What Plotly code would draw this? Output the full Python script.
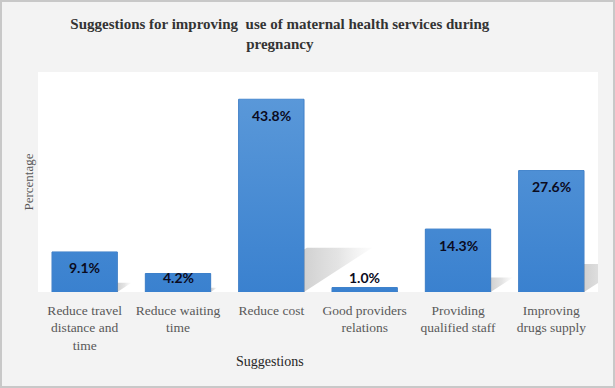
import plotly.graph_objects as go

categories = [
    "Reduce travel<br>distance and<br>time",
    "Reduce waiting<br>time",
    "Reduce cost",
    "Good providers<br>relations",
    "Providing<br>qualified staff",
    "Improving<br>drugs supply",
]
values = [9.1, 4.2, 43.8, 1.0, 14.3, 27.6]
labels = ["9.1%", "4.2%", "43.8%", "1.0%", "14.3%", "27.6%"]

positions = list(range(len(categories)))
BAR_W = 0.7
Y_MAX = 50
LABEL_MIN = 7.0


def clip_right(pts, xr):
    """Keep the part of polygon pts with x >= xr (Sutherland-Hodgman)."""
    out = []
    n = len(pts)
    for k in range(n):
        p, q = pts[k], pts[(k + 1) % n]
        pin, qin = p[0] >= xr, q[0] >= xr
        if pin:
            out.append(p)
        if pin != qin:
            t = (xr - p[0]) / (q[0] - p[0])
            out.append((xr, p[1] + t * (q[1] - p[1])))
    return out


fig = go.Figure()

# soft perspective drop shadows (derived from each bar value), only the part beside the bar
for xi, v in zip(positions, values):
    dx = 0.0167 * v
    dy = 0.23 * v
    L, R = xi - BAR_W / 2, xi + BAR_W / 2
    poly = [(L, 0), (R, 0), (R + dx, dy), (L + dx, dy)]
    vis = clip_right(poly, R)
    if len(vis) < 3:
        continue
    xs = [p[0] for p in vis] + [vis[0][0]]
    ys = [p[1] for p in vis] + [vis[0][1]]
    fig.add_trace(go.Scatter(
        x=xs, y=ys, mode="lines", fill="toself",
        line=dict(width=0, color="rgba(0,0,0,0)"),
        fillgradient=dict(
            type="horizontal",
            colorscale=[[0, "rgba(110,110,110,0.32)"], [0.5, "rgba(130,130,130,0.22)"],
                        [1, "rgba(170,170,170,0.03)"]],
        ),
        hoverinfo="skip", showlegend=False,
    ))

fig.add_trace(go.Bar(
    x=positions, y=values, width=BAR_W,
    marker=dict(color="#4a8cd4", line=dict(color="#3a7bc4", width=1)),
    showlegend=False, hoverinfo="skip",
))

# subtle vertical gradient over each bar (lighter top, deeper bottom)
for xi, v in zip(positions, values):
    L, R = xi - BAR_W / 2 + 0.006, xi + BAR_W / 2 - 0.006
    fig.add_trace(go.Scatter(
        x=[L, R, R, L, L], y=[0, 0, v, v, 0], mode="lines", fill="toself",
        line=dict(width=0, color="rgba(0,0,0,0)"),
        fillgradient=dict(
            type="vertical", start=0, stop=Y_MAX,
            colorscale=[[0, "#3a81cf"], [1, "#5e9bda"]],
        ),
        hoverinfo="skip", showlegend=False,
    ))

for xi, v, t in zip(positions, values, labels):
    fig.add_annotation(
        x=xi, y=max(v, LABEL_MIN), text=t, showarrow=False,
        yanchor="middle", yshift=-16,
        font=dict(family="Lato", size=14, color="#0b0b1e", weight="bold"),
    )

fig.add_annotation(
    xref="paper", yref="paper", x=0.414, y=-0.318, text="Suggestions",
    showarrow=False, xanchor="center", yanchor="middle",
    font=dict(family="Liberation Serif", size=14, color="#262626"),
)

fig.update_layout(
    width=615, height=388,
    margin=dict(l=38, r=17, t=72, b=96),
    paper_bgcolor="#f3f3f3",
    plot_bgcolor="#ffffff",
    title=dict(
        text="Suggestions for improving  use of maternal health services during<br>pregnancy",
        x=0.455, xanchor="center", y=0.925, yanchor="middle",
        font=dict(family="Liberation Serif", size=15, color="#333333", weight="bold"),
    ),
    xaxis=dict(
        range=[-0.5, len(categories) - 0.5],
        tickmode="array", tickvals=positions, ticktext=categories,
        showgrid=False, zeroline=False, showline=False, ticks="",
        ticklabelstandoff=8,
        tickfont=dict(family="Liberation Serif", size=13.5, color="#595959"),
        fixedrange=True,
    ),
    yaxis=dict(
        range=[0, Y_MAX], showticklabels=False, showgrid=False,
        zeroline=False, showline=False, ticks="",
        title=dict(text="Percentage", standoff=0,
                   font=dict(family="Liberation Serif", size=13, color="#595959")),
        fixedrange=True,
    ),
    shapes=[dict(type="rect", xref="paper", yref="paper",
                 x0=-37/560, x1=1+16/560, y0=-95/220, y1=1+71/220,
                 line=dict(color="#c8c8c8", width=2), fillcolor="rgba(0,0,0,0)", layer="below")],
)

fig.write_html(
    "out.html",
    config={"displayModeBar": False},
    post_script="document.body.style.margin='0';document.body.style.overflow='hidden';",
)
